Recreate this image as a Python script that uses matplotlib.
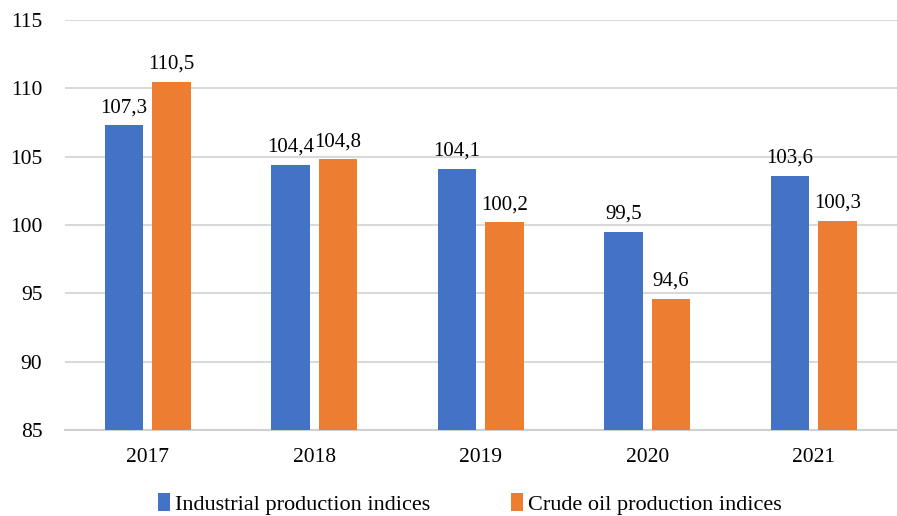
import matplotlib.pyplot as plt
import numpy as np

plt.rcParams['font.family'] = ['Liberation Serif', 'DejaVu Serif']

years = ['2017', '2018', '2019', '2020', '2021']
industrial = [107.3, 104.4, 104.1, 99.5, 103.6]
crude_oil = [110.5, 104.8, 100.2, 94.6, 100.3]

x = np.arange(len(years))
w = 0.23
gap = 0.055

fig = plt.figure(figsize=(8.97, 5.16), dpi=100)
ax = fig.add_axes([0.072, 0.167, 0.928, 0.794])

b1 = ax.bar(x - (w + gap) / 2, industrial, width=w, color='#4472C4',
            label='Industrial production indices', zorder=3)
b2 = ax.bar(x + (w + gap) / 2, crude_oil, width=w, color='#ED7D31',
            label='Crude oil production indices', zorder=3)

for bars in (b1, b2):
    for r in bars:
        v = r.get_height()
        ax.text(r.get_x() + r.get_width() / 2, v + 0.6, f'{v:.1f}'.replace('.', ','),
                ha='center', va='bottom', fontsize=15)

ax.set_ylim(85, 115)
ax.set_xlim(-0.5, 4.5)
ax.set_yticks(range(85, 116, 5))
ax.set_xticks(x)
ax.set_xticklabels(years)
ax.tick_params(axis='both', length=0, labelsize=15.5)
ax.tick_params(axis='x', pad=13)
ax.tick_params(axis='y', pad=16)
ax.grid(axis='y', color='#D9D9D9', linewidth=1.5, zorder=0)
for s in ['top', 'right', 'left']:
    ax.spines[s].set_visible(False)
ax.spines['bottom'].set_color('#D0D0D0')
ax.spines['bottom'].set_linewidth(1.5)

ax.legend(loc='center', bbox_to_anchor=(0.487, -0.18), ncol=2, frameon=False,
          fontsize=16, handlelength=0.55, handleheight=0.9, handletextpad=0.25,
          columnspacing=3.6)

plt.savefig('out.png')
